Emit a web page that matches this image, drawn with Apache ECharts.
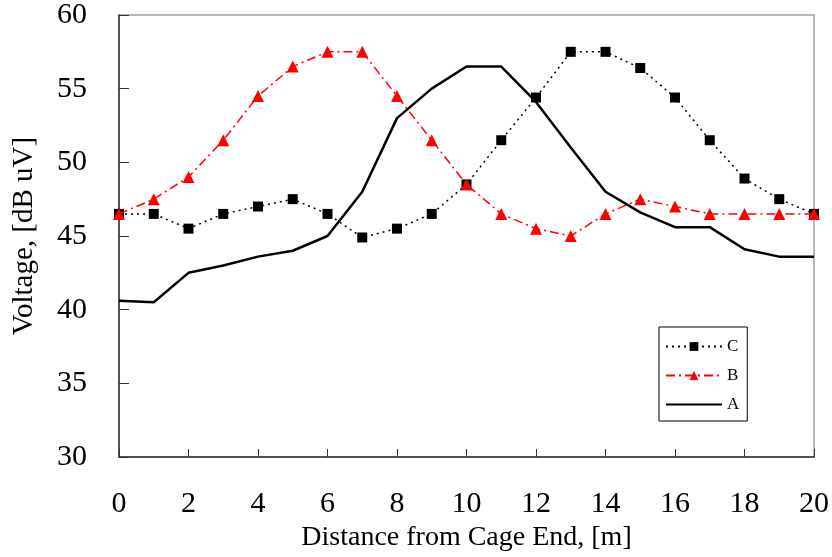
<!DOCTYPE html>
<html><head><meta charset="utf-8">
<script src="https://cdn.jsdelivr.net/npm/echarts@6/dist/echarts.min.js"></script>
<style>html,body{margin:0;padding:0;background:#fff}#c{width:832px;height:557px}</style>
</head><body><div id="c"></div>
<script>
var distance = [0,1,2,3,4,5,6,7,8,9,10,11,12,13,14,15,16,17,18,19,20];
var seriesC = [46.5,46.5,45.5,46.5,47,47.5,46.5,44.9,45.5,46.5,48.5,51.5,54.4,57.5,57.5,56.4,54.4,51.5,48.9,47.5,46.5];
var seriesB = [46.5,47.5,49,51.5,54.5,56.5,57.5,57.5,54.5,51.5,48.5,46.5,45.5,45,46.5,47.5,47,46.5,46.5,46.5,46.5];
var seriesA = [40.6,40.5,42.5,43,43.6,44,45,48,53,55,56.5,56.5,54.1,51,48,46.6,45.6,45.6,44.1,43.6,43.6];
var names = ['C','B','A'];

function pairs(v){ return distance.map(function(x,i){ return [x, v[i]]; }); }
var font = 'Liberation Serif, Times New Roman, serif';
var chart = echarts.init(document.getElementById('c'), null, {renderer:'canvas'});
chart.setOption({
  animation:false,
  backgroundColor:'#fff',
  textStyle:{fontFamily:font},
  grid:{left:119,right:18,top:15,bottom:100,show:true,borderColor:'#a0a0a0',borderWidth:1.5,backgroundColor:'transparent'},
  legend:{
    data:[{name:'C'},{name:'B'},{name:'A',itemStyle:{opacity:0}}],
    orient:'vertical', left:659, top:327, width:90,
    backgroundColor:'#fff', borderColor:'#000', borderWidth:1, padding:[11,8,8,6],
    itemGap:12, itemWidth:56, itemHeight:11,
    textStyle:{fontFamily:font,fontSize:17,color:'#000'}
  },
  xAxis:{type:'value',min:0,max:20,interval:2,
    name:'Distance from Cage End, [m]',nameLocation:'middle',nameGap:65,
    nameTextStyle:{fontFamily:font,fontSize:28,color:'#000'},
    axisLine:{lineStyle:{color:'#333',width:1.5}},
    axisTick:{inside:true,length:8,lineStyle:{color:'#333'}},
    axisLabel:{fontFamily:font,fontSize:30,color:'#000',margin:32},
    splitLine:{show:false}},
  yAxis:{type:'value',min:30,max:60,interval:5,
    name:'Voltage, [dB uV]',nameLocation:'middle',nameGap:80,
    nameTextStyle:{fontFamily:font,fontSize:29,color:'#000'},
    axisLine:{show:true,lineStyle:{color:'#333',width:1.5}},
    axisTick:{show:true,inside:true,length:10,lineStyle:{color:'#333'}},
    axisLabel:{fontFamily:font,fontSize:30,color:'#000',margin:32},
    splitLine:{show:false}},
  series:[
    {name:'C',type:'line',data:pairs(seriesC),symbol:'rect',symbolSize:10,
      itemStyle:{color:'#000'},lineStyle:{color:'#000',width:1.5,type:[2,4]},z:3},
    {name:'B',type:'line',data:pairs(seriesB),symbol:'triangle',symbolSize:12,
      itemStyle:{color:'#ff0000'},lineStyle:{color:'#ff0000',width:1.5,type:[9,4,2,4]},z:4},
    {name:'A',type:'line',data:pairs(seriesA),symbol:'none',showSymbol:false,
      itemStyle:{color:'#000'},lineStyle:{color:'#000',width:2.5},z:2}
  ]
});
</script></body></html>
